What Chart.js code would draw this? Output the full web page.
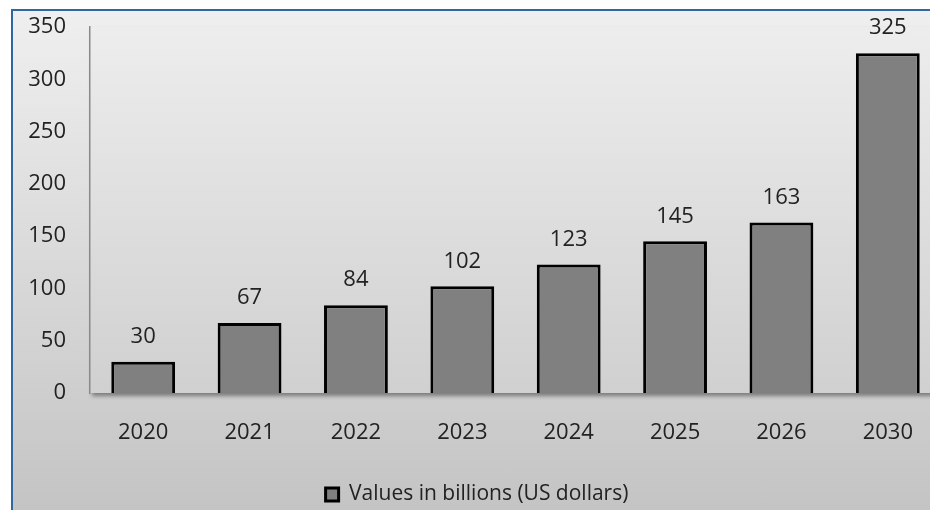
<!DOCTYPE html>
<html>
<head>
<meta charset="utf-8">
<script src="https://cdn.jsdelivr.net/npm/chart.js@4"></script>
<style>
    html, body { margin: 0; padding: 0; background: #fff; overflow: hidden; }
    #chartFrame {
        position: absolute; left: 11px; top: 9px; width: 960px; height: 510px;
        border-left: 2px solid #2f68a0; border-top: 2px solid #2f68a0;
        background: linear-gradient(#efefef, #c3c3c3);
        overflow: hidden;
    }
</style>
</head>
<body>
<div id="chartFrame"><canvas id="marketChart" width="960" height="510"></canvas></div>
<script>
var years = ["2020", "2021", "2022", "2023", "2024", "2025", "2026", "2030"];
var marketValues = [30, 67, 84, 102, 123, 145, 163, 325];
var seriesName = "Values in billions (US dollars)";
var yTicks = [0, 50, 100, 150, 200, 250, 300, 350];

Chart.defaults.font.family = "'Open Sans', sans-serif";
Chart.defaults.font.size = 22;
Chart.defaults.color = '#222';

/* plot area panel with a drop shadow */
var plotPanel = {
    id: 'plotPanel',
    beforeDraw: function (chart) {
        var ctx = chart.ctx, a = chart.chartArea;
        ctx.save();
        ctx.shadowColor = 'rgba(0,0,0,0.4)';
        ctx.shadowBlur = 4;
        ctx.shadowOffsetX = 2;
        ctx.shadowOffsetY = 3;
        var grad = ctx.createLinearGradient(0, a.top, 0, a.bottom);
        grad.addColorStop(0, '#ededed');
        grad.addColorStop(1, '#d0d0d0');
        ctx.fillStyle = grad;
        ctx.fillRect(a.left, a.top, a.right - a.left, a.bottom - a.top);
        ctx.restore();
    }
};

/* value labels above the bars */
var barValues = {
    id: 'barValues',
    afterDatasetsDraw: function (chart) {
        var ctx = chart.ctx;
        var meta = chart.getDatasetMeta(0);
        ctx.save();
        ctx.font = "22px 'Open Sans', sans-serif";
        ctx.fillStyle = '#222';
        ctx.textAlign = 'center';
        ctx.textBaseline = 'middle';
        meta.data.forEach(function (bar, i) {
            ctx.fillText(marketValues[i], bar.x, bar.y - 25);
        });
        ctx.restore();
    }
};

function BindBarChart() {
    var el = document.getElementById("marketChart");
    new Chart(el, {
        type: 'bar',
        plugins: [plotPanel, barValues],
        data: {
            labels: years,
            datasets: [
                {
                    label: seriesName,
                    data: marketValues,
                    backgroundColor: '#808080',
                    borderColor: '#000',
                    borderWidth: 3,
                    barPercentage: 0.6,
                    categoryPercentage: 1
                }
            ]
        },
        options: {
            responsive: false,
            animation: false,
            layout: { padding: { top: 16, right: 32, bottom: 6, left: 0 } },
            plugins: {
                tooltip: { enabled: false },
                legend: {
                    display: true,
                    position: 'bottom',
                    labels: {
                        boxWidth: 13,
                        boxHeight: 13,
                        padding: 10,
                        font: { size: 21 }
                    }
                }
            },
            scales: {
                x: {
                    grid: { display: false, drawTicks: false },
                    border: { display: false },
                    ticks: { padding: 27 },
                    afterFit: function (s) {
                        s.height = 81;
                        s.paddingLeft = 0;
                        s.paddingRight = 0;
                    }
                },
                y: {
                    min: 0,
                    max: 350,
                    afterBuildTicks: function (s) {
                        s.ticks = yTicks.map(function (v) { return { value: v }; });
                    },
                    grid: { display: false, drawTicks: false },
                    border: { display: true, color: '#8a8a8a', width: 1.5 },
                    ticks: { padding: 24 },
                    afterFit: function (s) {
                        s.width = 77;
                        s.paddingTop = 0;
                        s.paddingBottom = 0;
                    }
                }
            }
        }
    });
}

BindBarChart();
</script>
</body>
</html>
